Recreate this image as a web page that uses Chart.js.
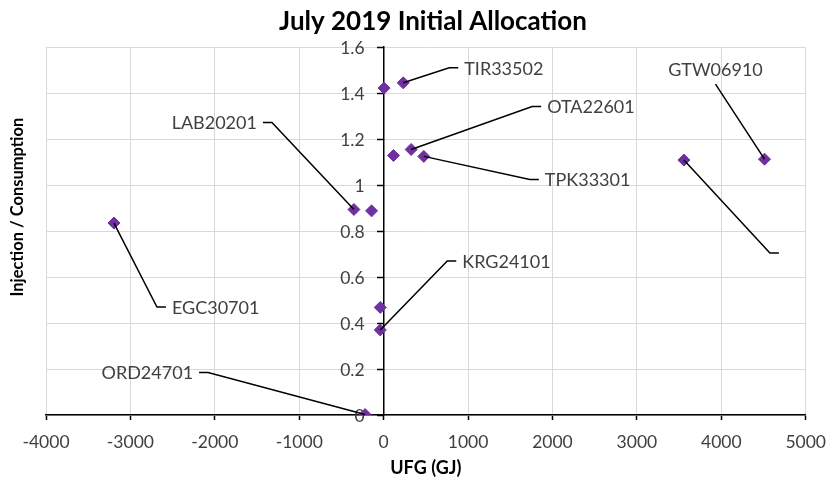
<!DOCTYPE html>
<html><head><meta charset="utf-8">
<script src="https://cdn.jsdelivr.net/npm/chart.js@4.4.0/dist/chart.umd.min.js"></script>
<style>html,body{margin:0;padding:0;background:#fff}#wrap{width:828px;height:477px}</style>
</head><body><div id="wrap"><canvas id="c" width="828" height="477"></canvas></div>
<script>
// ---- data ----
const chartTitle = 'July 2019 Initial Allocation';
const xAxisTitle = 'UFG (GJ)';
const yAxisTitle = 'Injection / Consumption';
const ufg   = [-3195, -352, -143, -40, -40, -220, 5, 232, 117, 326, 476, 3557, 4512];
const ratio = [0.835, 0.894, 0.888, 0.468, 0.370, 0.002, 1.422, 1.445, 1.129, 1.155, 1.125, 1.109, 1.113];
const names = ['EGC30701', 'LAB20201', '', '', 'KRG24101', 'ORD24701', '', 'TIR33502', '', 'OTA22601', 'TPK33301', '', 'GTW06910'];
const xTicks = [-4000, -3000, -2000, -1000, 0, 1000, 2000, 3000, 4000, 5000];
const yTicks = [0, 0.2, 0.4, 0.6, 0.8, 1, 1.2, 1.4, 1.6];

// ---- label leader layout (pixel offsets of the elbow from the marker; side of text) ----
const leaderLayout = [
  [43, 84, 1], [-82, -87, -1], null, null, [67, -69, 1], [-157, -42, -1], null,
  [46, -15, 1], null, [121, -43, 1], [106, 23, 1], [86, 93, 1], [-49, -75, 0]
];

const FONT = 'Lato, "Open Sans", sans-serif';
const TEXT = '#404040';

const yLabelPlugin = {
  id: 'ylabels',
  beforeDatasetsDraw(chart) {
    const ctx = chart.ctx;
    const ys = chart.scales.y, xs = chart.scales.x;
    const x0 = xs.getPixelForValue(0);
    ctx.save();
    ctx.font = '17.5px ' + FONT;
    ctx.fillStyle = TEXT;
    ctx.textAlign = 'right';
    ctx.textBaseline = 'middle';
    yTicks.forEach(v => {
      ctx.fillText(String(v), x0 - 19, ys.getPixelForValue(v) + 1);
    });
    ctx.restore();
  }
};

const leaderPlugin = {
  id: 'leaders',
  afterDatasetsDraw(chart) {
    const ctx = chart.ctx;
    const meta = chart.getDatasetMeta(0);
    ctx.save();
    ctx.strokeStyle = '#000';
    ctx.lineWidth = 1.5;
    ctx.font = '18px ' + FONT;
    ctx.fillStyle = TEXT;
    ctx.textBaseline = 'middle';
    meta.data.forEach((pt, i) => {
      const lo = leaderLayout[i];
      if (!lo) return;
      const [dx, dy, side] = lo;
      const ex = pt.x + dx, ey = pt.y + dy;
      ctx.beginPath();
      ctx.moveTo(pt.x, pt.y);
      ctx.lineTo(ex, ey);
      if (side !== 0) ctx.lineTo(ex + side * 9, ey);
      ctx.stroke();
      const t = names[i];
      if (!t) return;
      if (side === 1) { ctx.textAlign = 'left'; ctx.fillText(t, ex + 15, ey + 1); }
      else if (side === -1) { ctx.textAlign = 'right'; ctx.fillText(t, ex - 15, ey + 1); }
      else { ctx.textAlign = 'center'; ctx.fillText(t, ex, ey - 14); }
    });
    ctx.restore();
  }
};

const yTitlePlugin = {
  id: 'ytitle',
  afterDraw(chart) {
    const ctx = chart.ctx;
    const a = chart.chartArea;
    ctx.save();
    ctx.translate(18, (a.top + a.bottom) / 2 - 24);
    ctx.rotate(-Math.PI / 2);
    ctx.font = 'bold 16.5px ' + FONT;
    ctx.fillStyle = '#000';
    ctx.textAlign = 'center';
    ctx.textBaseline = 'middle';
    ctx.fillText(yAxisTitle, 0, 0);
    ctx.restore();
  }
};

new Chart(document.getElementById('c'), {
  type: 'scatter',
  data: {
    datasets: [{
      data: ufg.map((x, i) => ({ x, y: ratio[i] })),
      pointStyle: 'rectRot',
      pointRadius: 6,
      pointHoverRadius: 6,
      backgroundColor: '#7030A0',
      borderColor: '#7030A0',
      borderWidth: 1
    }]
  },
  options: {
    responsive: false,
    animation: false,
    layout: { autoPadding: false, padding: { left: 46, right: 8, top: 0, bottom: 0 } },
    plugins: {
      legend: { display: false },
      tooltip: { enabled: false },
      title: {
        display: true, text: chartTitle, color: '#000',
        font: { family: FONT, size: 26, weight: 'bold' },
        padding: { top: 6, bottom: 10 }
      }
    },
    scales: {
      x: {
        type: 'linear', position: 'bottom', min: -4000, max: 5000,
        afterBuildTicks: s => { s.ticks = xTicks.map(v => ({ value: v })); },
        grid: { color: '#d9d9d9', lineWidth: 1, tickColor: '#000', tickLength: 5, tickWidth: 1.5 },
        border: { color: '#000', width: 1.5 },
        ticks: { font: { family: FONT, size: 17.5, lineHeight: '40px' }, color: TEXT, padding: 2, maxRotation: 0, callback: v => String(v) },
        title: { display: true, text: xAxisTitle, color: '#000', font: { family: FONT, size: 18, weight: 'bold' }, padding: { top: -6.6, bottom: -2 } }
      },
      y: {
        type: 'linear', position: { x: 0 }, min: 0, max: 1.6,
        afterBuildTicks: s => { s.ticks = yTicks.map(v => ({ value: v })); },
        grid: { color: '#d9d9d9', lineWidth: 1, tickColor: '#000', tickLength: 6, tickWidth: 1.5 },
        border: { color: '#000', width: 1.5 },
        ticks: { display: false }
      }
    }
  },
  plugins: [yLabelPlugin, leaderPlugin, yTitlePlugin]
});
</script></body></html>
